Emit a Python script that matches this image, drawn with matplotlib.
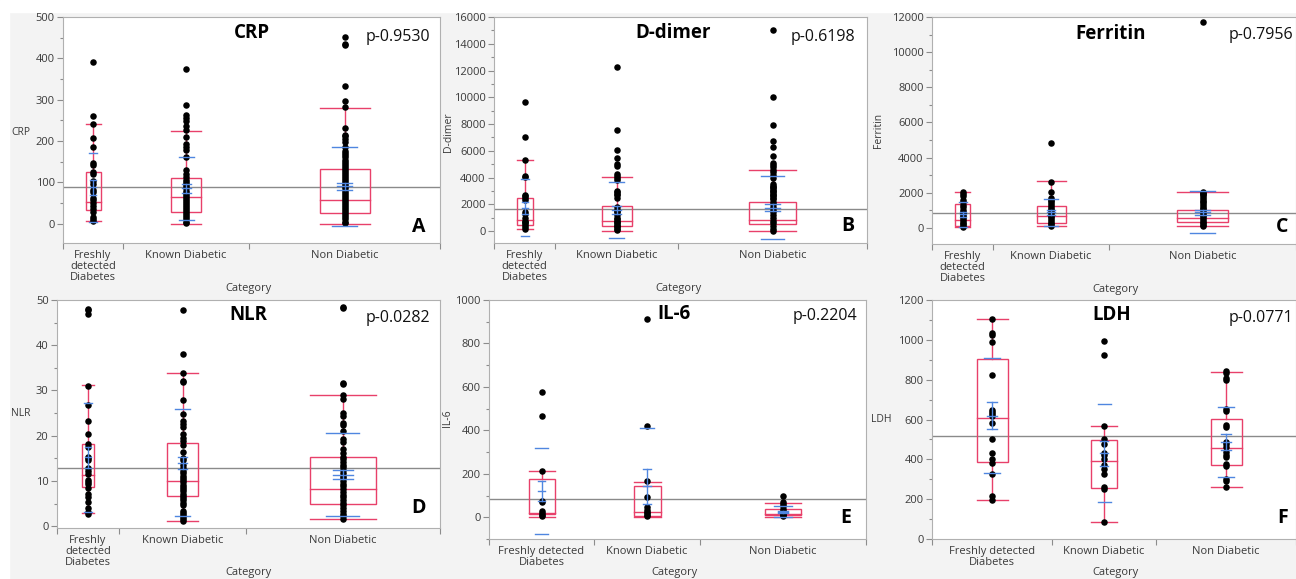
import matplotlib
matplotlib.use("Agg")
import matplotlib.pyplot as plt
from matplotlib.patches import Rectangle
from matplotlib.ticker import MultipleLocator
import numpy as np

plt.rcParams["font.family"] = ["Open Sans", "DejaVu Sans"]

W, H = 1296, 579
RED = "#e8406a"
BLUE = "#4f86e0"

cats_narrow = ["Freshly\ndetected\nDiabetes", "Known Diabetic", "Non Diabetic"]
cats_wide = ["Freshly detected\nDiabetes", "Known Diabetic", "Non Diabetic"]

# ---- CRP ----
crp_fresh = [390, 260, 241, 206, 186, 147, 141, 126, 120, 102, 96, 82, 76, 62, 58, 50,
             42, 35, 27, 17, 10, 6]
crp_known = [375, 287, 263, 255, 248, 235, 226, 210, 192, 186, 178, 162, 130, 120, 112,
             105, 100, 95, 90, 85, 80, 75, 70, 65, 60, 55, 50, 45, 40, 35, 30, 25, 20,
             15, 10, 5, 2]
crp_non = [452, 435, 432, 333, 297, 282, 232, 215, 212, 205, 198, 185, 175, 170, 165, 160,
           155, 150, 145, 140, 135, 130, 125, 120, 115, 110, 105, 100, 95, 90, 85, 80, 75,
           70, 65, 60, 55, 50, 45, 40, 35, 30, 25, 20, 15, 10, 5, 2]
crp_q1 = [34, 28, 26]
crp_med = [52, 65, 56]
crp_q3 = [124, 110, 132]
crp_lo = [6, 0, 0]
crp_hi = [241, 225, 280]
crp_mean = [88, 85, 90]
crp_sd = [84, 77, 95]
crp_sem = [18, 12, 9]
crp_grand = 88

# ---- D-dimer ----
dd_fresh = [9680, 7030, 5300, 4100, 4050, 2700, 2600, 2500, 2300, 1400, 1300, 1000, 800,
            700, 600, 500, 300, 200]
dd_known = [12270, 7590, 6100, 5450, 5000, 4900, 4250, 4100, 3950, 3800, 3000, 2900, 2800,
            2700, 2500, 1800, 1600, 1500, 1400, 1200, 1000, 900, 800, 700, 600, 500, 400,
            300, 200, 100]
dd_non = [15050, 10030, 7910, 6740, 6300, 5600, 5100, 4950, 4800, 4600, 4400, 4200, 4000,
          3500, 3400, 3300, 3200, 3100, 3000, 2900, 2800, 2700, 2600, 2500, 2400, 2200,
          2000, 1800, 1600, 1400, 1200, 1000, 800, 600, 400, 200, 50]
dd_q1 = [500, 420, 520]
dd_med = [870, 750, 870]
dd_q3 = [2490, 1920, 2160]
dd_lo = [170, 50, 30]
dd_hi = [5320, 4060, 4600]
dd_mean = [1765, 1590, 1765]
dd_sd = [2135, 2110, 2335]
dd_sem = [450, 330, 270]
dd_grand = 1667

# ---- Ferritin ----
fer_fresh = [2050, 1900, 1800, 1600, 1450, 1300, 1200, 1000, 900, 850, 800, 700, 600, 500,
             400, 300, 200, 100, 50]
fer_known = [4850, 2600, 2050, 1700, 1600, 1500, 1400, 1300, 1200, 1100, 1000, 900, 800,
             700, 600, 500, 400, 300, 200, 100]
fer_non = [11700, 2050, 2000, 1950, 1850, 1750, 1650, 1550, 1450, 1350, 1250, 1150, 1050,
           950, 850, 750, 650, 550, 450, 350, 250, 150, 80]
fer_q1 = [130, 280, 340]
fer_med = [470, 660, 570]
fer_q3 = [1350, 1250, 1040]
fer_lo = [40, 100, 110]
fer_hi = [2030, 2640, 2050]
fer_mean = [760, 875, 885]
fer_sd = [720, 775, 1205]
fer_sem = [160, 120, 150]
fer_grand = 853

# ---- NLR ----
nlr_fresh = [48.0, 47.8, 46.8, 31.0, 26.8, 23.3, 20.4, 18.2, 17.5, 15.2, 15.0, 14.7, 12.8,
             12.3, 11.5, 10.3, 9.8, 9.3, 8.4, 7.2, 6.4, 5.3, 4.1, 3.1, 2.8]
nlr_known = [47.8, 38.0, 33.8, 32.0, 31.8, 27.8, 24.7, 23.2, 22.6, 22.0, 20.4, 19.5, 18.8,
             17.9, 16.5, 15.1, 14.7, 13.5, 12.8, 12.2, 11.7, 11.2, 10.7, 10.2, 9.7, 9.2,
             8.7, 8.2, 7.7, 7.2, 6.7, 6.2, 5.7, 5.2, 4.7, 3.4, 3.0, 2.5, 2.0, 1.5, 1.2]
nlr_non = [48.5, 48.3, 31.7, 31.4, 29.0, 28.2, 25.0, 24.3, 22.9, 22.3, 21.0, 19.2, 18.5,
           17.0, 16.2, 15.3, 14.8, 14.2, 13.6, 13.0, 12.4, 11.8, 11.2, 10.6, 10.0, 9.4, 8.8,
           8.2, 7.6, 7.0, 6.4, 5.8, 5.2, 4.6, 4.0, 3.4, 2.8, 2.2, 1.6]
nlr_q1 = [8.7, 6.6, 4.9]
nlr_med = [11.3, 9.9, 8.3]
nlr_q3 = [18.1, 18.4, 15.2]
nlr_lo = [2.9, 1.2, 1.5]
nlr_hi = [31.1, 33.8, 29.0]
nlr_mean = [15.2, 14.0, 11.4]
nlr_sd = [12.0, 11.8, 9.2]
nlr_sem = [2.3, 1.3, 0.95]
nlr_grand = 12.96

# ---- IL-6 ----
il6_fresh = [576, 464, 213, 75, 70, 28, 20, 10, 5]
il6_known = [912, 422, 165, 95, 45, 35, 25, 18, 10, 5]
il6_non = [100, 70, 60, 50, 40, 30, 25, 20, 15, 10, 5]
il6_q1 = [15, 8, 11]
il6_med = [18, 23, 17]
il6_q3 = [177, 143, 38]
il6_lo = [0, 3, 0]
il6_hi = [212, 161, 65]
il6_mean = [120, 142, 25]
il6_sd = [197, 270, 26]
il6_sem = [45, 81, 6]
il6_grand = 84

# ---- LDH ----
ldh_fresh = [1105, 1035, 1025, 990, 825, 650, 640, 630, 620, 580, 500, 430, 400, 380, 325,
             215, 195]
ldh_known = [995, 925, 565, 500, 475, 430, 420, 400, 370, 350, 325, 260, 250, 87]
ldh_non = [845, 835, 810, 800, 655, 645, 570, 560, 485, 475, 460, 435, 420, 410, 375, 365,
           300, 290, 260]
ldh_q1 = [386, 257, 371]
ldh_med = [607, 393, 456]
ldh_q3 = [906, 495, 605]
ldh_lo = [194, 87, 259]
ldh_hi = [1105, 565, 839]
ldh_mean = [619, 431, 487]
ldh_sd = [290, 247, 175]
ldh_sem = [68, 63, 38]
ldh_grand = 516

p_values = ["p-0.9530", "p-0.6198", "p-0.7956", "p-0.0282", "p-0.2204", "p-0.0771"]


def panel_axes(fig, left, right, top, bottom):
    return fig.add_axes([left / W, 1 - bottom / H, (right - left) / W, (bottom - top) / H])


def draw_panel(ax, groups, q1, med, q3, lo, hi, mean, sd, sem, grand,
               group_w, box_w, ylim, major, labels):
    edges = np.concatenate([[0], np.cumsum(group_w)])
    centers = (edges[:-1] + edges[1:]) / 2
    ax.set_xlim(edges[0], edges[-1])
    ax.set_ylim(*ylim)
    ax.axhline(grand, color="#8a8a8a", lw=1.0, zorder=1)
    for i, c in enumerate(centers):
        hw = box_w[i] / 2
        ax.add_patch(Rectangle((c - hw, q1[i]), box_w[i], q3[i] - q1[i], fill=False,
                               ec=RED, lw=1.0, zorder=2))
        ax.plot([c - hw, c + hw], [med[i], med[i]], color=RED, lw=1.0, zorder=2)
        ax.plot([c, c], [q3[i], hi[i]], color=RED, lw=1.0, zorder=2)
        ax.plot([c, c], [lo[i], q1[i]], color=RED, lw=1.0, zorder=2)
        ax.plot([c - hw, c + hw], [hi[i], hi[i]], color=RED, lw=1.0, zorder=2)
        ax.plot([c - hw, c + hw], [lo[i], lo[i]], color=RED, lw=1.0, zorder=2)
        ax.scatter(np.full(len(groups[i]), c), groups[i], s=22, color="black",
                   lw=0, zorder=3)
        # mean +/- SD lines, mean error bar
        sw = max(box_w[i] * 0.5, 8) / 2
        for v in (mean[i] - sd[i], mean[i] + sd[i]):
            ax.plot([c - sw, c + sw], [v, v], color=BLUE, lw=1.0, zorder=4)
        ew = max(box_w[i] * 0.3, 6) / 2
        ax.plot([c, c], [mean[i] - sem[i], mean[i] + sem[i]], color=BLUE, lw=1.0, zorder=4)
        for v in (mean[i] - sem[i], mean[i], mean[i] + sem[i]):
            ax.plot([c - ew, c + ew], [v, v], color=BLUE, lw=1.0, zorder=4)

    ax.set_yticks(np.arange(0, ylim[1] + 1e-9, major))
    ax.yaxis.set_minor_locator(MultipleLocator(major / 2))
    ax.tick_params(axis="y", which="major", length=4, width=0.8, color="#8c8c8c",
                   labelsize=8, labelcolor="#3a3a3a", pad=2)
    ax.tick_params(axis="y", which="minor", length=2.5, width=0.8, color="#8c8c8c")
    ax.set_xticks(centers)
    ax.set_xticklabels(labels, linespacing=1.0)
    ax.set_xticks(edges, minor=True)
    ax.tick_params(axis="x", which="major", length=0, labelsize=8,
                   labelcolor="#3a3a3a", pad=5)
    ax.tick_params(axis="x", which="minor", length=4, width=0.8, color="#8c8c8c")
    for s in ax.spines.values():
        s.set_color("#b0b0b0")
        s.set_linewidth(0.8)
    ax.set_facecolor("white")


fig = plt.figure(figsize=(W / 100, H / 100), dpi=100, facecolor="#f3f3f3")
fig.add_artist(Rectangle((0, 1 - 12 / H), 1, 12 / H, transform=fig.transFigure,
                         color="white", zorder=-5))
fig.add_artist(Rectangle((0, 0), 9 / W, 1, transform=fig.transFigure,
                         color="white", zorder=-5))

panels = [
    dict(name="CRP", box=(63, 440, 17, 243),
         data=([crp_fresh, crp_known, crp_non], crp_q1, crp_med, crp_q3, crp_lo, crp_hi,
               crp_mean, crp_sd, crp_sem, crp_grand),
         gw=[60, 126, 191], bw=[15, 30, 50], ylim=(-47, 500), major=100,
         labels=cats_narrow, tpos=(0.5, 0.929), ppos=(0.973, 0.912), letter="A",
         lpos=(0.944, 0.071), ylpos=(-0.111, 0.49), rot=0, catpos=(0.493, -0.2)),
    dict(name="D-dimer", box=(494, 867, 17, 243),
         data=([dd_fresh, dd_known, dd_non], dd_q1, dd_med, dd_q3, dd_lo, dd_hi,
               dd_mean, dd_sd, dd_sem, dd_grand),
         gw=[61, 123, 189], bw=[16, 30, 47], ylim=(-880, 16000), major=2000,
         labels=cats_narrow, tpos=(0.48, 0.929), ppos=(0.968, 0.912), letter="B",
         lpos=(0.949, 0.075), ylpos=(-0.123, 0.49), rot=90, catpos=(0.494, -0.2)),
    dict(name="Ferritin", box=(932, 1296, 17, 244),
         data=([fer_fresh, fer_known, fer_non], fer_q1, fer_med, fer_q3, fer_lo, fer_hi,
               fer_mean, fer_sd, fer_sem, fer_grand),
         gw=[61, 116, 187], bw=[15, 29, 51], ylim=(-920, 12000), major=2000,
         labels=cats_narrow, tpos=(0.49, 0.925), ppos=(0.992, 0.92), letter="C",
         lpos=(0.962, 0.075), ylpos=(-0.148, 0.5), rot=90, catpos=(0.503, -0.2)),
    dict(name="NLR", box=(57, 440, 300, 528),
         data=([nlr_fresh, nlr_known, nlr_non], nlr_q1, nlr_med, nlr_q3, nlr_lo, nlr_hi,
               nlr_mean, nlr_sd, nlr_sem, nlr_grand),
         gw=[62, 127, 194], bw=[12, 31, 66], ylim=(-0.4, 50), major=10,
         labels=cats_narrow, tpos=(0.5, 0.934), ppos=(0.974, 0.921), letter="D",
         lpos=(0.945, 0.088), ylpos=(-0.094, 0.504), rot=0, catpos=(0.499, -0.197)),
    dict(name="IL-6", box=(489, 866, 300, 539),
         data=([il6_fresh, il6_known, il6_non], il6_q1, il6_med, il6_q3, il6_lo, il6_hi,
               il6_mean, il6_sd, il6_sem, il6_grand),
         gw=[105, 106, 166], bw=[26, 27, 36], ylim=(-100, 1000), major=200,
         labels=cats_wide, tpos=(0.49, 0.941), ppos=(0.976, 0.933), letter="E",
         lpos=(0.947, 0.088), ylpos=(-0.109, 0.506), rot=90, catpos=(0.493, -0.142)),
    dict(name="LDH", box=(932, 1296, 300, 539),
         data=([ldh_fresh, ldh_known, ldh_non], ldh_q1, ldh_med, ldh_q3, ldh_lo, ldh_hi,
               ldh_mean, ldh_sd, ldh_sem, ldh_grand),
         gw=[120, 104, 140], bw=[31, 26, 31], ylim=(0, 1200), major=200,
         labels=cats_wide, tpos=(0.495, 0.937), ppos=(0.992, 0.925), letter="F",
         lpos=(0.964, 0.088), ylpos=(-0.14, 0.498), rot=0, catpos=(0.503, -0.142)),
]

for p, pval in zip(panels, p_values):
    ax = panel_axes(fig, *p["box"])
    draw_panel(ax, *p["data"], p["gw"], p["bw"], p["ylim"], p["major"], p["labels"])
    ax.text(*p["tpos"], p["name"], transform=ax.transAxes, ha="center", va="center",
            fontsize=13.5, fontweight="bold", color="black")
    ax.text(*p["ppos"], pval, transform=ax.transAxes, ha="right", va="center",
            fontsize=11.5, color="#111111")
    ax.text(*p["lpos"], p["letter"], transform=ax.transAxes, ha="center", va="center",
            fontsize=14, fontweight="bold", color="black")
    ax.text(*p["ylpos"], p["name"], transform=ax.transAxes, ha="center", va="center",
            rotation=p["rot"], fontsize=7.5, color="#3a3a3a")
    ax.text(*p["catpos"], "Category", transform=ax.transAxes, ha="center", va="center",
            fontsize=8, color="#3a3a3a")

fig.savefig("out.png", dpi=100, facecolor=fig.get_facecolor())
